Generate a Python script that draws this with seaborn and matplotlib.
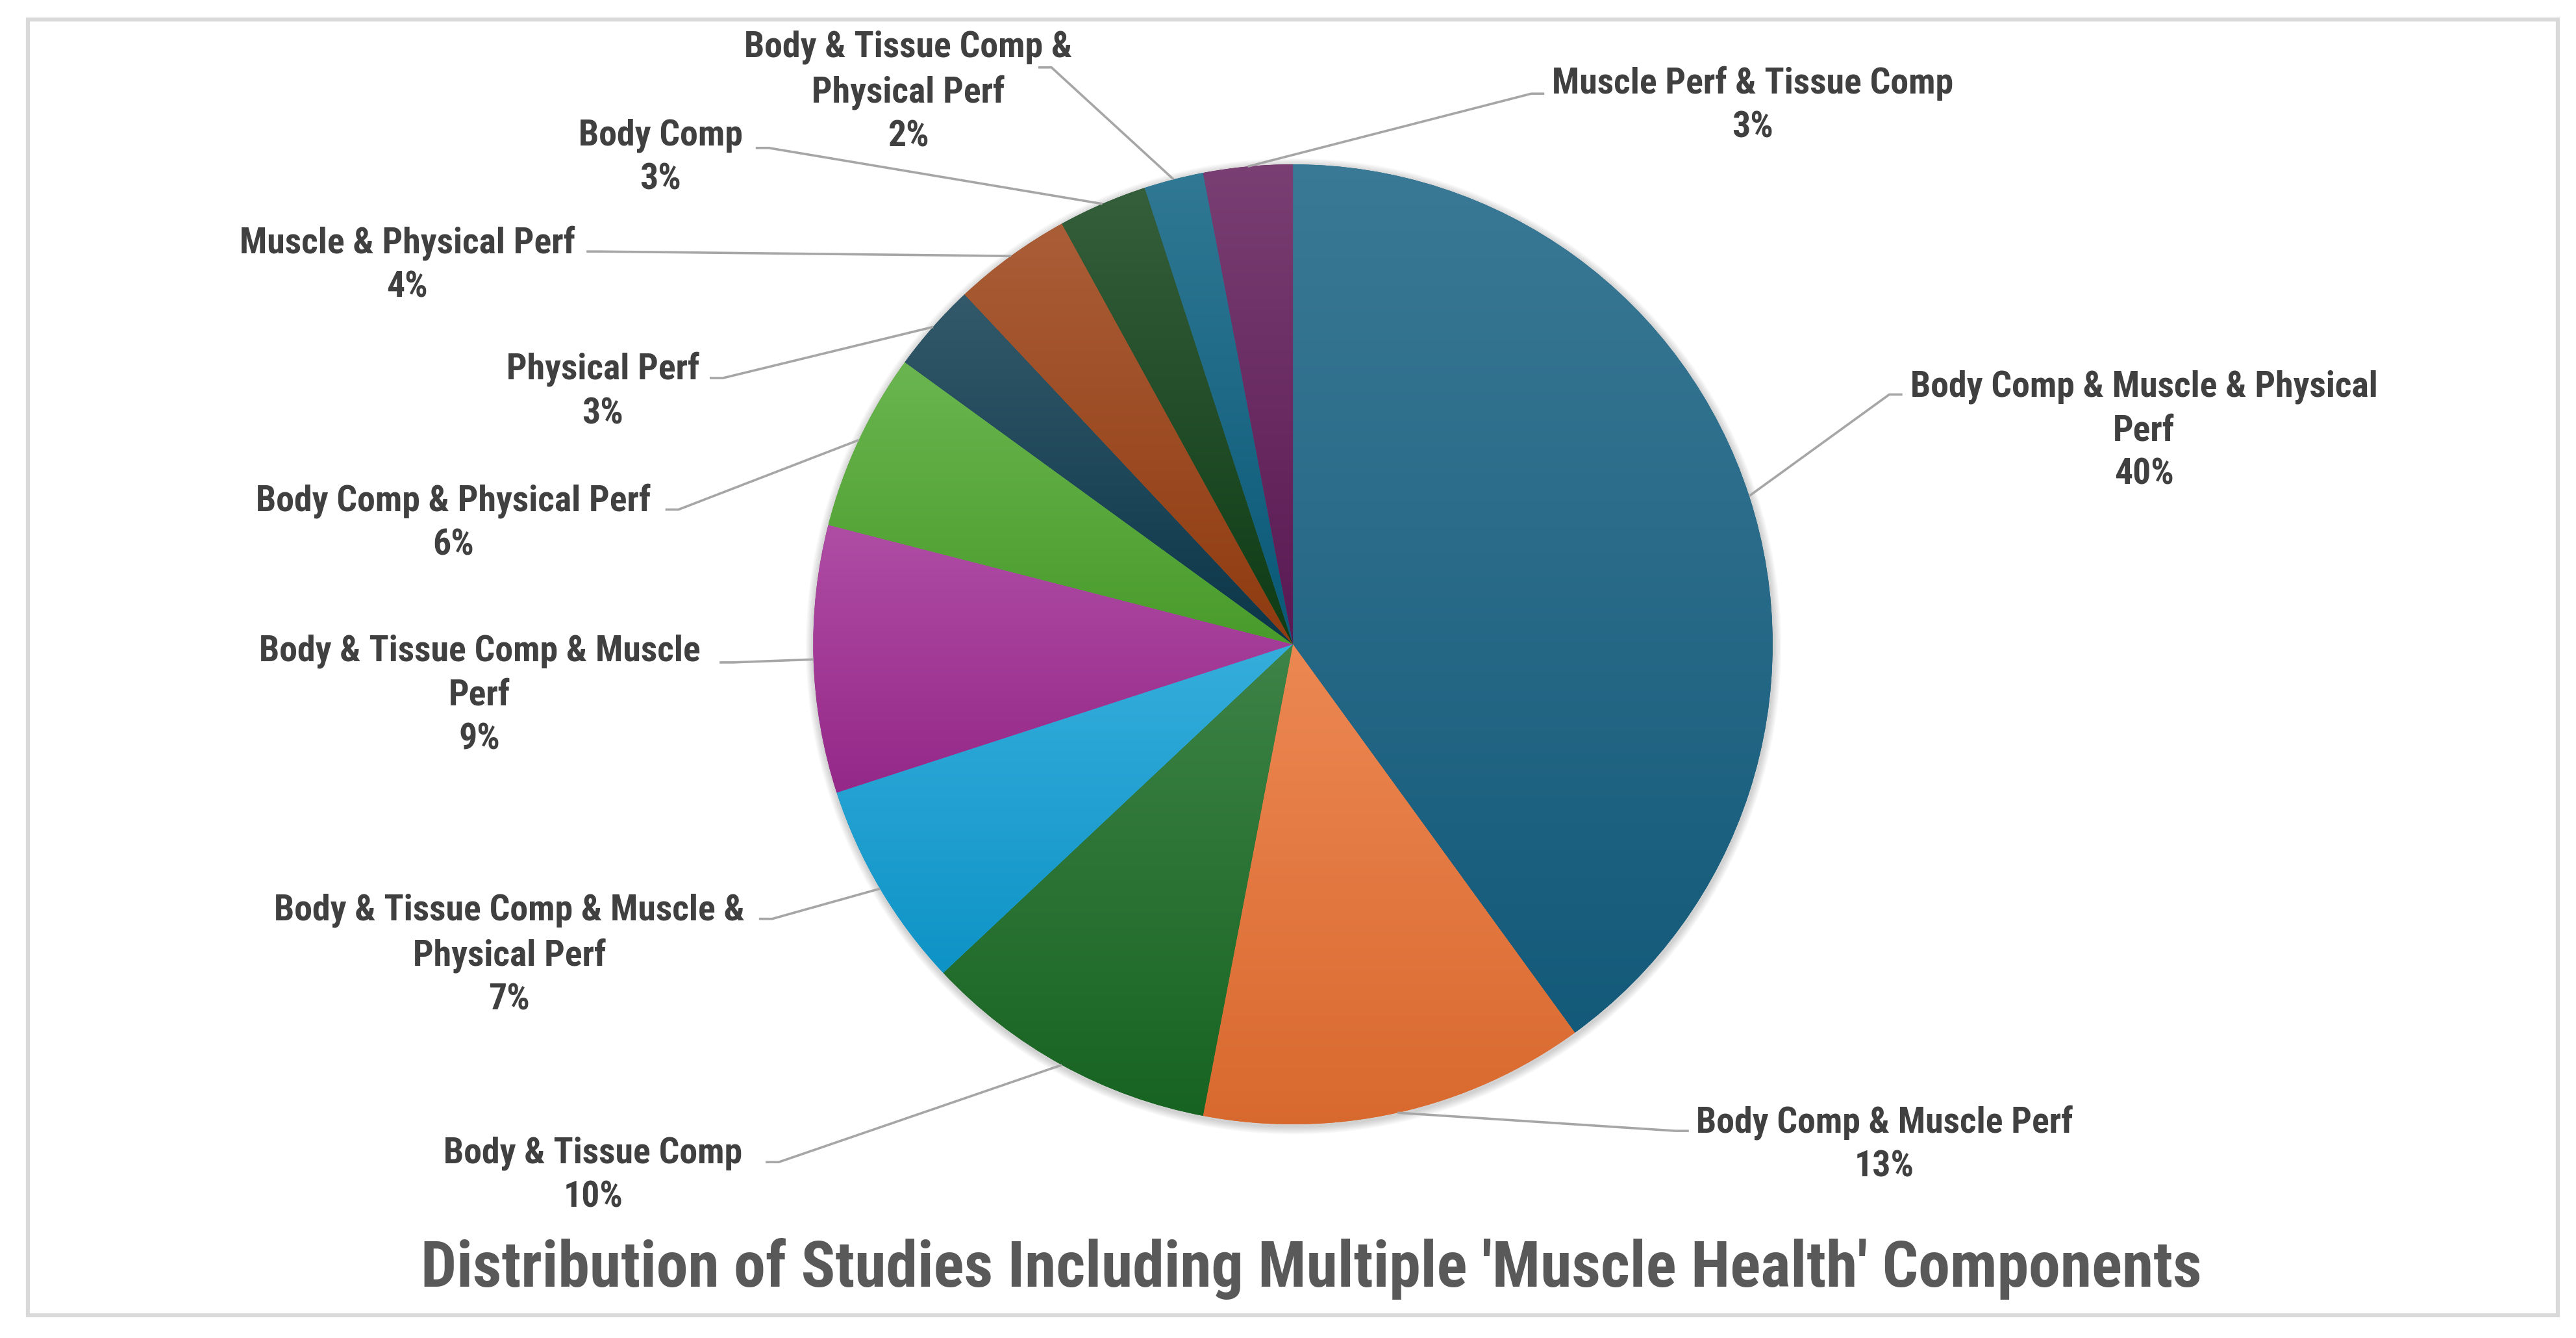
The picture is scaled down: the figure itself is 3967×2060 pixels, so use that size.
import numpy as np
import matplotlib
matplotlib.use("Agg")
import matplotlib.pyplot as plt
import matplotlib.colors as mcolors
from matplotlib.patches import Rectangle, Circle
from matplotlib.font_manager import FontProperties
import seaborn as sns

# data: shares of studies (%), clockwise from 12 o'clock
categories = [
    "Body Comp & Muscle & Physical\nPerf",
    "Body Comp & Muscle Perf",
    "Body & Tissue Comp",
    "Body & Tissue Comp & Muscle &\nPhysical Perf",
    "Body & Tissue Comp & Muscle\nPerf",
    "Body Comp & Physical Perf",
    "Physical Perf",
    "Muscle & Physical Perf",
    "Body Comp",
    "Body & Tissue Comp &\nPhysical Perf",
    "Muscle Perf & Tissue Comp",
]
shares = [40, 13, 10, 7, 9, 6, 3, 4, 3, 2, 3]
title = "Distribution of Studies Including Multiple 'Muscle Health' Components"

# Office-style palette: six accents, then the same accents darker
palette = sns.color_palette([
    "#156082", "#E97132", "#196B24", "#0F9ED5", "#A02B93", "#4EA72E",
    "#0C3A4E", "#9A3F11", "#0F4016", "#095F80", "#601A58",
])

# layout, in pixels of a 1568 x 814 canvas (y from the top)
W, H = 1568, 814
SCALE = 3967 / W
CENTER = (787, 392)
RADIUS = 292
label_pos = [(1305, 262), (1147, 696), (361, 715), (310, 581), (292, 423),
             (276, 318), (367, 238), (248, 161), (402, 96), (553, 56), (1067, 64)]
leader_end = [(1158, 240), (1028, 688), (466, 707), (462, 559), (438, 403),
              (405, 310), (432, 230), (357, 153), (460, 90), (632, 41), (940, 57)]

sns.set_theme(style="white")
FONTS = ["Roboto Condensed", "Liberation Sans Narrow", "Roboto", "DejaVu Sans"]
plt.rcParams["font.family"] = FONTS

fig = plt.figure(figsize=(39.67, 20.6), dpi=100)
ax = fig.add_axes([0, 0, 1, 1])
renderer = fig.canvas.get_renderer()


def fit_size(text, target_px, base=40):
    # font size (pt) that makes `text` about target_px wide, whatever font was found
    t = fig.text(0, 0, text, fontsize=base, fontweight="bold")
    w = t.get_window_extent(renderer).width
    t.remove()
    return base * target_px / w


label_fs = fit_size("Body Comp & Muscle Perf", 229 * SCALE)
title_fs = fit_size(title, 1083 * SCALE)
fp = FontProperties(family=FONTS, size=label_fs, weight="bold")
_, lp_h, lp_d = renderer.get_text_width_height_descent("lp", fp, ismath=False)
label_ls = 0.86 * 26 * SCALE / (lp_h - lp_d)

cx, cy = CENTER[0], H - CENTER[1]

# soft shadow behind the pie
for k in range(1, 7):
    ax.add_patch(Circle((cx + 0.4, cy - 1.2), RADIUS + k * 0.8, color="black",
                        alpha=0.03, lw=0, zorder=0))

wedges, _ = ax.pie(shares, colors=palette, startangle=90, counterclock=False,
                   center=(cx, cy), radius=RADIUS, frame=True,
                   wedgeprops={"linewidth": 0})

# vertical gradient fill inside each wedge
t = np.linspace(0, 1, 256)[:, None, None]
for w, c in zip(wedges, palette):
    c = np.array(mcolors.to_rgb(c))
    top = c * 0.84 + 0.16
    bot = c * 0.93
    img = top * (1 - t) + bot * t
    bb = w.get_path().get_extents()
    im = ax.imshow(img, extent=(bb.x0, bb.x1, bb.y0, bb.y1), origin="upper",
                   aspect="auto", interpolation="bilinear", zorder=2)
    im.set_clip_path(w)
    w.set_zorder(1)

# leader lines and labels
for w, name, share, (lx, ly), (ex, ey) in zip(wedges, categories, shares,
                                              label_pos, leader_end):
    ang = np.deg2rad((w.theta1 + w.theta2) / 2)
    px, py = cx + RADIUS * np.cos(ang), cy + RADIUS * np.sin(ang)
    ey = H - ey
    side = 1 if ex > cx else -1
    ax.plot([px, ex - side * 8, ex], [py, ey, ey], color="#a6a6a6", lw=2.6,
            solid_capstyle="butt", zorder=3)
    ax.text(lx, H - ly, f"{name}\n{share}%", ha="center", va="center",
            fontsize=label_fs, fontweight="bold", color="#404040",
            linespacing=label_ls, zorder=4)

ax.text(798, H - 772, title, ha="center", va="center", fontsize=title_fs,
        fontweight="bold", color="#595959")

# chart border
ax.add_patch(Rectangle((17, H - 800), 1540, 788, fill=False, edgecolor="#d9d9d9",
                       lw=4.5, zorder=5))

ax.set_xlim(0, W)
ax.set_ylim(0, H)
ax.set_aspect("equal", adjustable="datalim")
ax.axis("off")

fig.savefig("out.png", dpi=100, facecolor="white")
